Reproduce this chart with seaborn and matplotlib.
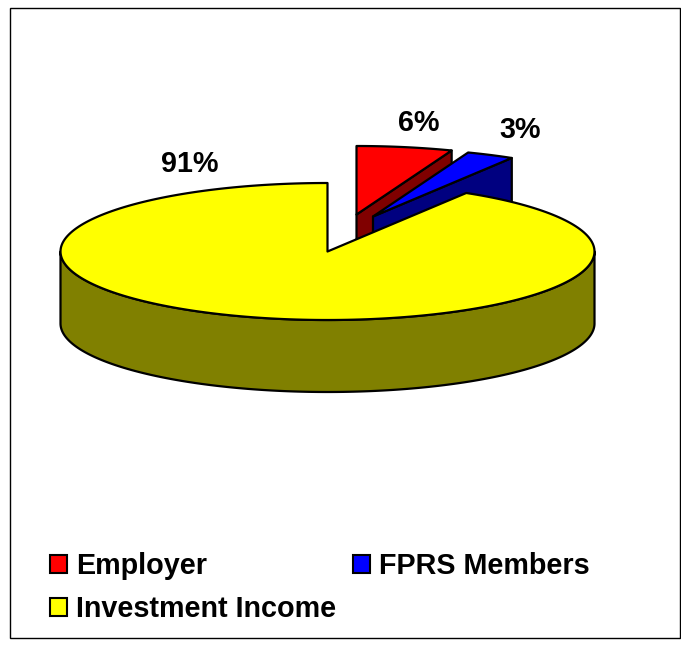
import numpy as np
import seaborn as sns
import matplotlib.pyplot as plt
from matplotlib.patches import Polygon, Rectangle, Patch

categories = ["Employer", "FPRS Members", "Investment Income"]
shares = [5.8, 2.9, 91.3]
pct_labels = ["6%", "3%", "91%"]
top_colors = ["#ff0000", "#0000ff", "#ffff00"]
side_colors = ["#800000", "#000080", "#808000"]

sns.set_theme(style="white")
plt.rcParams['font.family'] = ['Liberation Sans', 'DejaVu Sans']
palette = sns.color_palette(top_colors)
dark = sns.color_palette(side_colors)

W, H = 681, 645
fig = plt.figure(figsize=(W / 100, H / 100), dpi=100)
ax = fig.add_axes([0, 0, 1, 1])
ax.set_xlim(0, W)
ax.set_ylim(H, 0)
ax.axis("off")

# pie geometry, in pixels
cx, cy = 327.5, 251.5
rx, ry = 267, 68.5
depth = 72
lw = 1.6
explode = [(29, -37), (45.5, -35), (0, 0)]
label_pos = [(419, 123), (520, 130), (190, 164)]


def arc(a0, a1, ox=0, oy=0, dy=0):
    # angles are degrees clockwise from 12 o'clock
    t = np.radians(np.linspace(a0, a1, 240))
    return np.column_stack([cx + ox + rx * np.sin(t), cy + oy + dy - ry * np.cos(t)])


def poly(pts, color, z):
    ax.add_patch(Polygon(pts, closed=True, facecolor=color, edgecolor="black",
                         linewidth=lw, joinstyle="round", zorder=z))


edges = np.concatenate([[0], np.cumsum(shares)]) * 3.6
z = 1
for i, name in enumerate(categories):
    ox, oy = explode[i]
    a0, a1 = edges[i], edges[i + 1]
    apex = (cx + ox, cy + oy)
    if name != "Investment Income":
        # cut face seen behind the wedge
        e = arc(a1, a1, ox, oy)[0]
        poly([apex, e, (e[0], e[1] + depth), (apex[0], apex[1] + depth)], dark[i], z)
    else:
        # front rim of the big slice
        front = arc(90, 270)
        back = arc(270, 90, dy=depth)
        poly(np.vstack([front, back]), dark[i], z)
    poly(np.vstack([[apex], arc(a0, a1, ox, oy)]), palette[i], z + 1)
    z += 2
    ax.text(label_pos[i][0], label_pos[i][1], pct_labels[i], fontsize=20.7,
            fontweight="bold", color="black", ha="center", va="center", zorder=20)

# chart frame
ax.add_patch(Rectangle((10, 8), 670, 630, fill=False, edgecolor="black", linewidth=1.0, zorder=0))

# column-wise legend order so Investment Income lands under Employer
order = [0, 2, 1]
handles = [Patch(facecolor=palette[i], edgecolor="black", linewidth=1.5) for i in order]
fig.legend(handles, [categories[i] for i in order], ncol=2, frameon=False,
           loc="lower left", bbox_to_anchor=(24 / W, 1 - 649 / H),
           prop={"weight": "bold", "size": 20.7}, handlelength=0.6, handleheight=0.6,
           handletextpad=0.32, labelspacing=0.53, columnspacing=0.57, labelcolor="black")

fig.savefig("out.png", dpi=100)
